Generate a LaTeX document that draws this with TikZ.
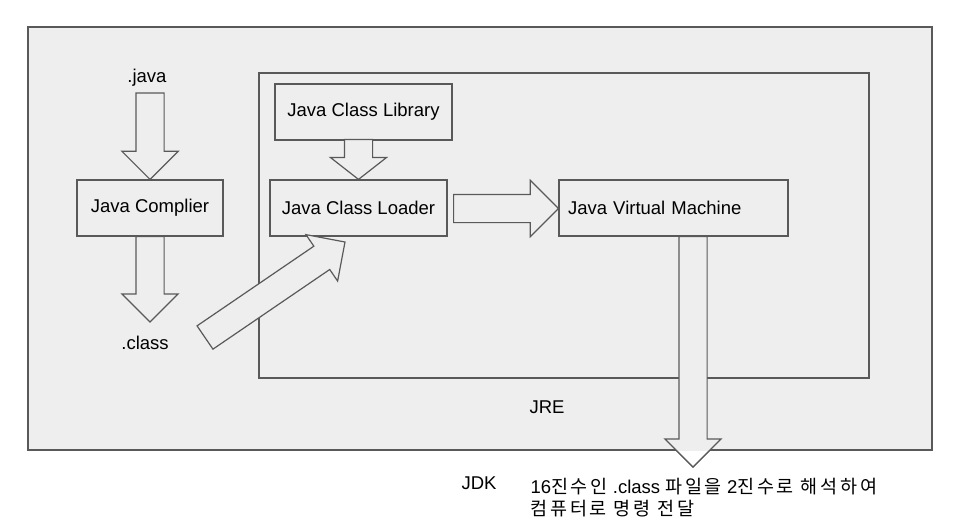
\documentclass[tikz,border=0pt]{standalone}
\usepackage{fontspec}
\setmainfont{Liberation Sans}
\newfontfamily\kr[LetterSpace=15]{Noto Sans CJK KR}
\usetikzlibrary{shapes.arrows,calc}
\definecolor{boxgray}{HTML}{EEEEEE}
\definecolor{linegray}{HTML}{595959}
\tikzset{>=latex,
  part/.style={draw=linegray, line width=1.2pt, minimum height=56pt, inner sep=0pt},
  fatarrow/.style={shape=single arrow, draw=linegray, fill=boxgray, line width=1.2pt,
    inner xsep=0pt, inner ysep=13.5pt, outer sep=0pt, single arrow head extend=14pt,
    single arrow tip angle=90, minimum width=1pt, anchor=tail}}
% block arrow from tail to tip
\newcommand\blockarrow[4][]{%
  \path let \p1=($(#4)-(#3)$) in
    node[fatarrow,#1,minimum height={veclen(\x1,\y1)},rotate={atan2(\y1,\x1)}] (#2) at (#3) {};}

\begin{document}
\begin{tikzpicture}[x=1pt,y=-1pt,font=\fontsize{18.5}{22}\selectfont]
            \useasboundingbox (0,0) rectangle (960,525);
            % JDK and JRE
            \draw[draw=linegray, fill=boxgray, line width=1.2pt] (28,27) rectangle (932,450);
            \draw[linegray, line width=1.2pt] (259,73) rectangle (869,378);
            \node[part, minimum width=177pt] (lib) at (363.5,112) {Java Class Library};
            \node[part, minimum width=146pt] (comp) at (150,208) {Java Complier};
            \node[part, minimum width=177pt] (loader) at (358.5,208) {Java Class Loader};
            \node[part, minimum width=229pt, text width=211pt, inner xsep=9pt, align=left] (jvm) at (673.5,208) {Java Virtual Machine};
            \node (java) at (147,78) {.java};
            \node (class) at (145,343) {.class};
            \node (jre) at (547,407) {JRE};
            \node (jdk) at (479,483) {JDK};
            \node[anchor=west, align=left] (note) at (527,498) {16{\kr 진수인} .class {\kr 파일을} 2{\kr 진수로 해석하여}\\{\kr 컴퓨터로 명령 전달}};
            % arrows
            \coordinate (javatail) at (150,93);
            \coordinate (classtip) at (150,322);
            \coordinate (libout) at ($(loader.north)+(0,-40)$);
            \coordinate (loadout) at ($(loader.east)+(6,0.5)$);
            \coordinate (jvmin) at ($(jvm.west)+(0,0.5)$);
            \coordinate (classout) at (205,337.5);
            \coordinate (loadin) at (345,242);
            \coordinate (jvmout) at ($(jvm.south)+(19.5,0)$);
            \coordinate (jvmtip) at (693,467);
            \blockarrow{a1}{javatail}{comp.north}
            \blockarrow{a2}{comp.south}{classtip}
            \blockarrow[single arrow tip angle=104]{a3}{libout}{loader.north}
            \blockarrow{a4}{loadout}{jvmin}
            \blockarrow{a5}{classout}{loadin}
            \blockarrow{a6}{jvmout}{jvmtip}
            \begin{scope}
            \clip (0,451) rectangle (960,525);
            \blockarrow[fill=white]{a6w}{jvmout}{jvmtip}
            \end{scope}
        \end{tikzpicture}
\end{document}
